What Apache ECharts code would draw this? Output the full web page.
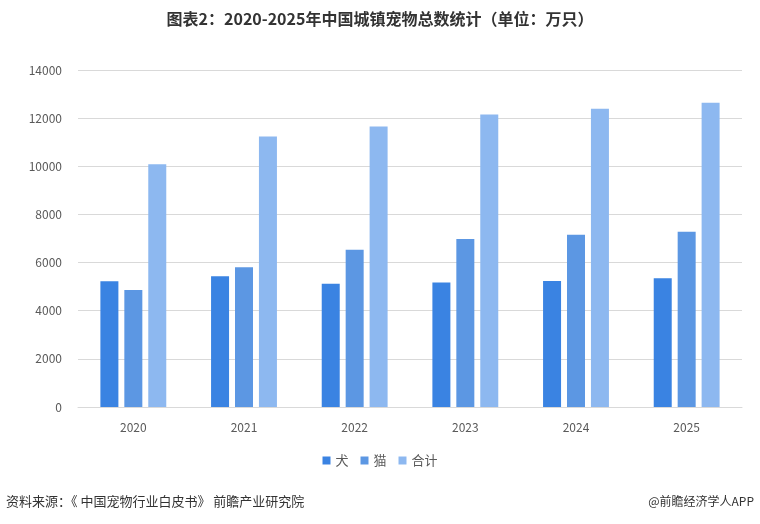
<!DOCTYPE html>
<html>
<head>
<meta charset="utf-8">
<script src="https://cdn.jsdelivr.net/npm/echarts@6/dist/echarts.min.js"></script>
<style>
  html, body { margin: 0; padding: 0; background: #fff; }
  #main { width: 760px; height: 524px; }
</style>
</head>
<body>
<div id="main"></div>
<script>
var years = ['2020', '2021', '2022', '2023', '2024', '2025'];
var dogs = [5222, 5429, 5119, 5175, 5235, 5345];
var cats = [4862, 5806, 6536, 6980, 7160, 7285];
var totals = [10084, 11235, 11655, 12155, 12395, 12640];

var myChart = echarts.init(document.getElementById('main'));
var font = '"Noto Sans CJK SC", sans-serif';
var option = {
    backgroundColor: '#fff',
    animation: false,
    textStyle: { fontFamily: font },
    title: {
        text: '图表2：2020-2025年中国城镇宠物总数统计（单位：万只）',
        left: 'center',
        top: 6,
        textStyle: { fontSize: 16, fontWeight: 'bold', color: '#333', fontFamily: font }
    },
    legend: {
        bottom: 52,
        left: 'center',
        itemWidth: 8,
        itemHeight: 8,
        itemGap: 12,
        icon: 'rect',
        textStyle: { fontSize: 13, color: '#595959' },
        data: ['犬', '猫', '合计']
    },
    grid: { left: 78, right: 18, top: 70, bottom: 117 },
    xAxis: {
        type: 'category',
        data: years,
        axisLine: { lineStyle: { color: '#d9d9d9' } },
        axisTick: { show: false },
        axisLabel: { color: '#595959', fontSize: 12, margin: 14 }
    },
    yAxis: {
        type: 'value',
        min: 0,
        max: 14000,
        interval: 2000,
        axisLine: { show: false },
        axisTick: { show: false },
        axisLabel: { color: '#595959', fontSize: 12, margin: 16, formatter: function (v) { return String(v); } },
        splitLine: { lineStyle: { color: '#d9d9d9' } }
    },
    series: [
        { name: '犬', type: 'bar', data: dogs, barWidth: 18, barGap: '33%', itemStyle: { color: '#3a83e2' } },
        { name: '猫', type: 'bar', data: cats, barWidth: 18, barGap: '33%', itemStyle: { color: '#5c97e3' } },
        { name: '合计', type: 'bar', data: totals, barWidth: 18, barGap: '33%', itemStyle: { color: '#8db8f0' } }
    ],
    graphic: [
        {
            type: 'text', left: 6, top: 495,
            style: { text: '资料来源：《 中国宠物行业白皮书》 前瞻产业研究院', fontSize: 13, fill: '#333', fontFamily: font }
        },
        {
            type: 'text', right: 6, top: 495,
            style: { text: '@前瞻经济学人APP', fontSize: 12, fill: '#333', fontFamily: font }
        }
    ]
};
myChart.setOption(option);
</script>
</body>
</html>
